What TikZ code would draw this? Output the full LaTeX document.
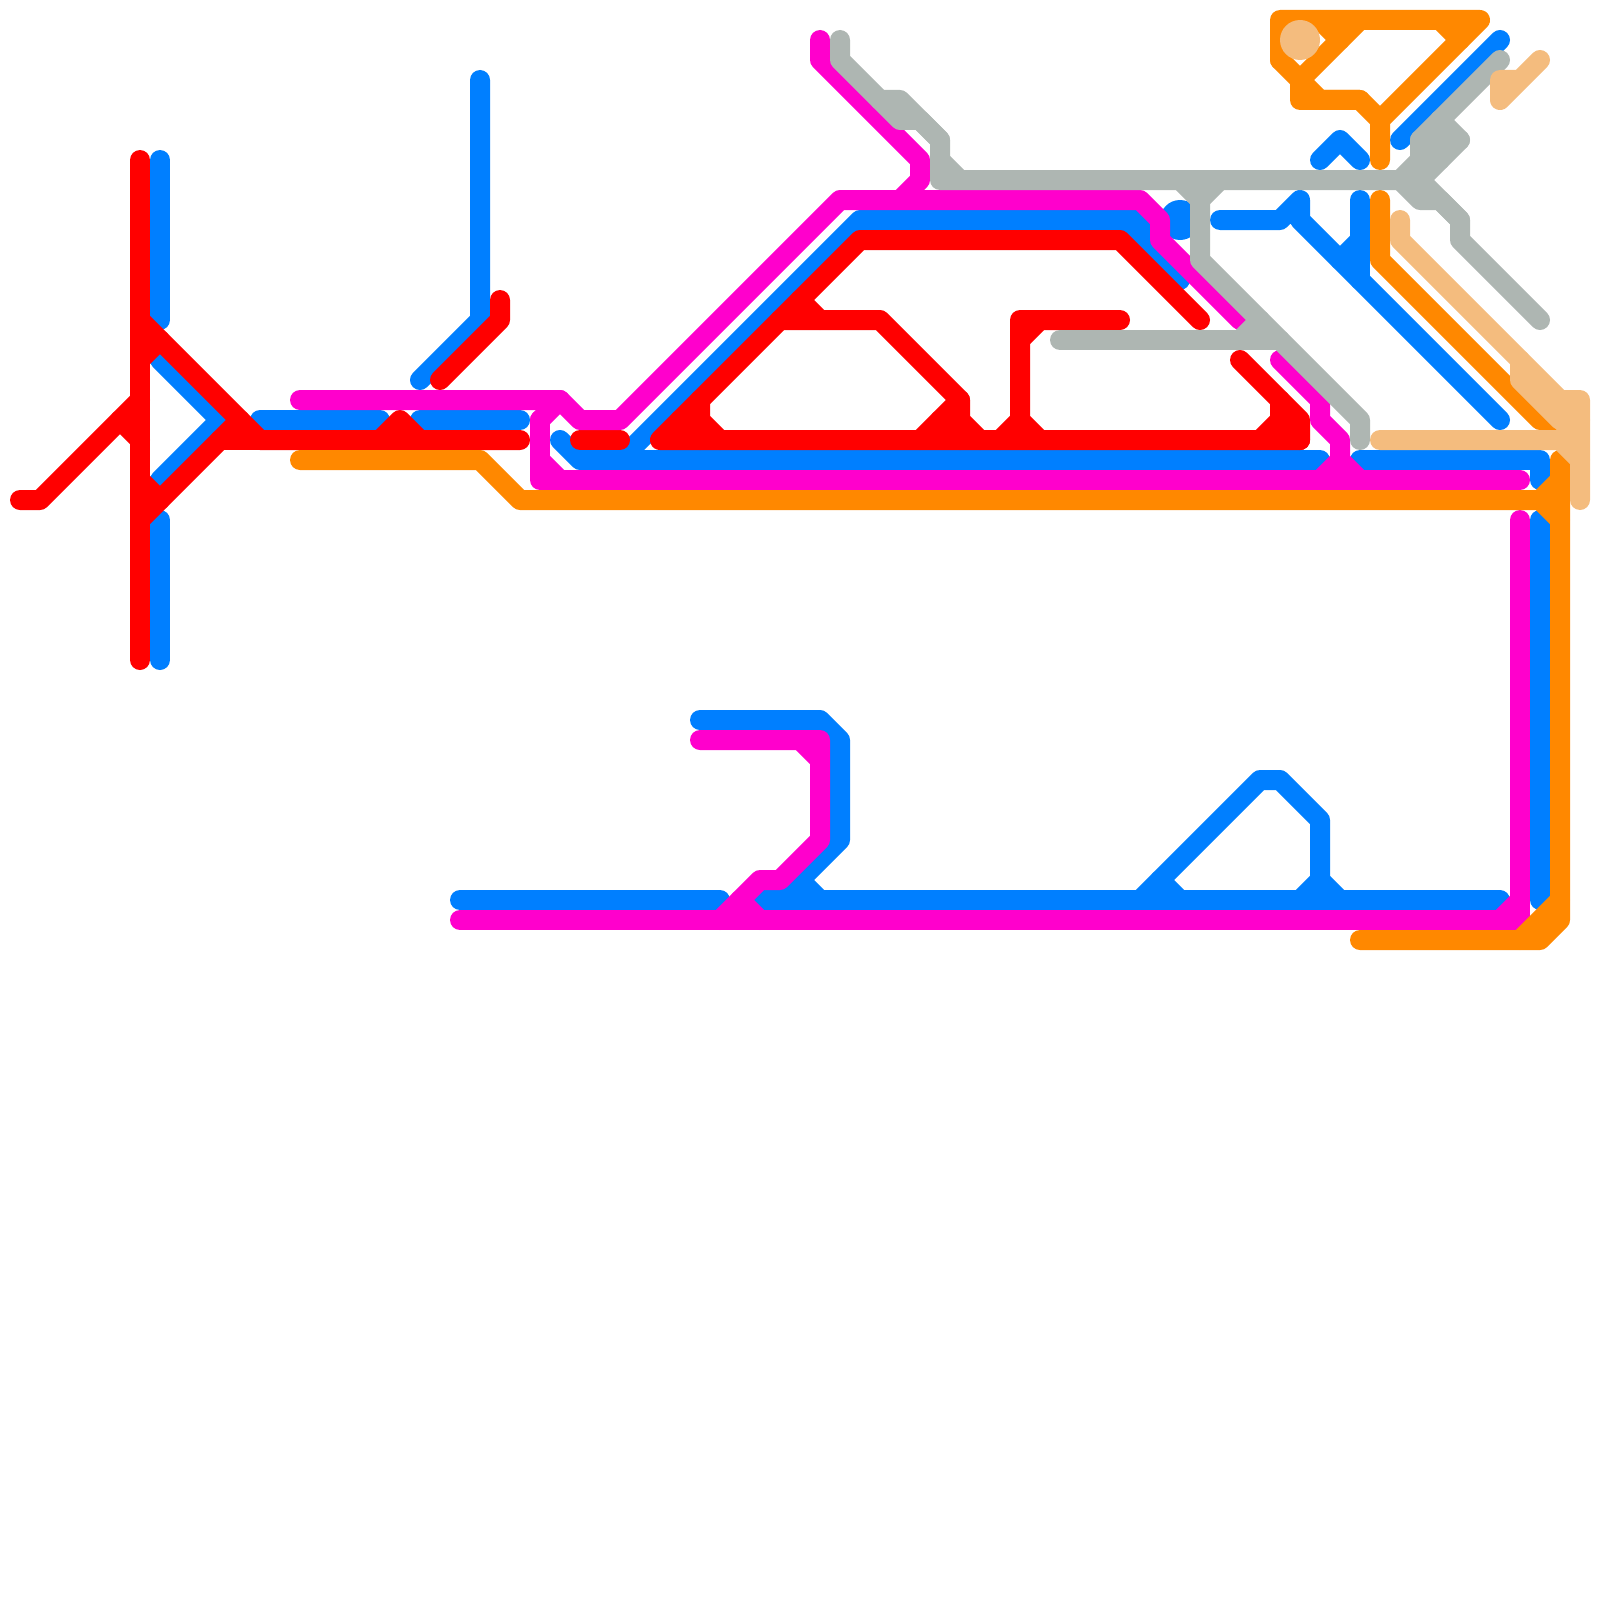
\documentclass[tikz,border=0pt]{standalone}
\definecolor{lblue}{HTML}{007FFF}
\definecolor{lred}{HTML}{FF0000}
\definecolor{lmag}{HTML}{FF00CC}
\definecolor{lorange}{HTML}{FF8800}
\definecolor{lgray}{HTML}{AEB6B2}
\definecolor{ltan}{HTML}{F4BC7E}
\tikzset{
  route/.style={line width=20pt,line cap=round,line join=round},
  blueroute/.style={route,draw=lblue},
  redroute/.style={route,draw=lred},
  magroute/.style={route,draw=lmag},
  orangeroute/.style={route,draw=lorange},
  grayroute/.style={route,draw=lgray},
  tanroute/.style={route,draw=ltan}
}
\begin{document}
\begin{tikzpicture}[x=1pt,y=-1pt]
\useasboundingbox (0,0) rectangle (1600,1600);
% blue
\fill[lblue] (1180,220) circle (20);
\draw[blueroute] (160,160) -- (160,320);
\draw[blueroute] (160,360) -- (220,420) -- (160,480);
\draw[blueroute] (160,520) -- (160,660);
\draw[blueroute] (260,420) -- (380,420);
\draw[blueroute] (420,420) -- (520,420);
\draw[blueroute] (480,80) -- (480,320) -- (420,380);
\draw[blueroute] (560,440) -- (580,460) -- (1320,460);
\draw[blueroute] (620,460) -- (860,220) -- (1120,220) -- (1180,280);
\draw[blueroute] (1120,220) -- (1140,220) -- (1160,240);
\draw[blueroute] (1360,460) -- (1540,460) -- (1540,480);
\draw[blueroute] (1540,520) -- (1540,900);
\draw[blueroute] (460,900) -- (720,900);
\draw[blueroute] (760,900) -- (1500,900);
\draw[blueroute] (700,720) -- (820,720) -- (840,740) -- (840,840) -- (780,900);
\draw[blueroute] (800,880) -- (820,900);
\draw[blueroute] (1140,900) -- (1260,780) -- (1280,780) -- (1320,820) -- (1320,880) -- (1300,900);
\draw[blueroute] (1320,880) -- (1340,900);
\draw[blueroute] (1160,880) -- (1180,900);
\draw[blueroute] (1400,140) -- (1500,40);
\draw[blueroute] (1320,160) -- (1340,140) -- (1360,160);
\draw[blueroute] (1220,220) -- (1280,220) -- (1300,200) -- (1300,220) -- (1500,420);
\draw[blueroute] (1360,200) -- (1360,280);
\draw[blueroute] (1360,240) -- (1340,260);
% red
\draw[redroute] (140,160) -- (140,660);
\draw[redroute] (20,500) -- (40,500) -- (140,400);
\draw[redroute] (120,420) -- (140,440);
\draw[redroute] (140,320) -- (260,440) -- (520,440);
\draw[redroute] (220,440) -- (260,440);
\draw[redroute] (140,520) -- (240,420);
\draw[redroute] (140,480) -- (160,500);
\draw[redroute] (140,360) -- (160,340);
\draw[redroute] (380,440) -- (400,420) -- (420,440);
\draw[redroute] (440,380) -- (500,320) -- (500,300);
\draw[redroute] (580,440) -- (620,440);
\draw[redroute] (1300,440) -- (660,440) -- (860,240) -- (1120,240) -- (1200,320);
\draw[redroute] (1300,440) -- (1300,420) -- (1240,360);
\draw[redroute] (1280,400) -- (1280,420) -- (1260,440);
\draw[redroute] (1280,420) -- (1300,440);
\draw[redroute] (700,400) -- (700,420) -- (720,440);
\draw[redroute] (680,420) -- (700,440);
\draw[redroute] (780,320) -- (880,320) -- (960,400) -- (960,420) -- (980,440);
\draw[redroute] (800,300) -- (820,320);
\draw[redroute] (920,440) -- (960,400);
\draw[redroute] (940,420) -- (960,440);
\draw[redroute] (1120,320) -- (1020,320) -- (1020,420) -- (1040,440);
\draw[redroute] (1020,340) -- (1040,320);
\draw[redroute] (1000,440) -- (1020,420);
% magenta
\draw[magroute] (300,400) -- (560,400) -- (580,420) -- (620,420) -- (840,200) -- (1140,200) -- (1160,220) -- (1160,240) -- (1240,320);
\draw[magroute] (820,40) -- (820,60) -- (920,160) -- (920,180) -- (900,200);
\draw[magroute] (540,420) -- (560,400);
\draw[magroute] (540,420) -- (540,480) -- (1520,480);
\draw[magroute] (540,460) -- (560,480);
\draw[magroute] (1280,360) -- (1320,400) -- (1320,420) -- (1340,440) -- (1340,460) -- (1320,480);
\draw[magroute] (1340,460) -- (1360,480);
\draw[magroute] (460,920) -- (1520,920) -- (1520,520);
\draw[magroute] (1500,920) -- (1520,900);
\draw[magroute] (720,920) -- (760,880) -- (780,880) -- (820,840) -- (820,740) -- (700,740);
\draw[magroute] (800,740) -- (820,760);
\draw[magroute] (740,900) -- (760,920);
% orange
\draw[orangeroute] (300,460) -- (480,460) -- (520,500) -- (1540,500);
\draw[orangeroute] (1540,500) -- (1560,480);
\draw[orangeroute] (1540,500) -- (1560,520);
\draw[orangeroute] (1360,940) -- (1540,940) -- (1560,920) -- (1560,460);
\draw[orangeroute] (1520,940) -- (1560,900);
\draw[orangeroute] (1360,20) -- (1300,80) -- (1320,100) -- (1360,100) -- (1380,120);
\draw[orangeroute] (1280,60) -- (1280,20) -- (1480,20) -- (1380,120) -- (1380,160);
\draw[orangeroute] (1280,60) -- (1300,80) -- (1300,100) -- (1360,100);
\draw[orangeroute] (1320,20) -- (1340,40);
\draw[orangeroute] (1440,20) -- (1460,40);
\draw[orangeroute] (1380,200) -- (1380,260) -- (1540,420) -- (1560,420);
% gray
\draw[grayroute] (840,40) -- (840,60) -- (900,120) -- (920,120) -- (940,140) -- (940,180) -- (1400,180);
\draw[grayroute] (880,100) -- (900,100) -- (940,140);
\draw[grayroute] (940,160) -- (960,180);
\draw[grayroute] (1180,180) -- (1200,200) -- (1220,180);
\draw[grayroute] (1200,200) -- (1200,260) -- (1360,420) -- (1360,440);
\draw[grayroute] (1060,340) -- (1280,340);
\draw[grayroute] (1240,340) -- (1260,320);
\draw[grayroute] (1400,180) -- (1420,160) -- (1420,140) -- (1500,60);
\draw[grayroute] (1440,120) -- (1460,140) -- (1420,180) -- (1460,220) -- (1460,240) -- (1540,320);
\draw[grayroute] (1400,180) -- (1420,200) -- (1440,200) -- (1460,220);
\draw[grayroute] (1440,120) -- (1440,160);
\draw[grayroute] (1420,140) -- (1460,140);
% tan
\fill[ltan] (1300,40) circle (20);
\draw[tanroute] (1540,60) -- (1520,80) -- (1500,80) -- (1500,100) -- (1540,60);
\draw[tanroute] (1400,220) -- (1400,240) -- (1560,400) -- (1580,400) -- (1580,500);
\draw[tanroute] (1520,360) -- (1520,380) -- (1560,420) -- (1580,420);
\draw[tanroute] (1380,440) -- (1560,440) -- (1580,420);
\draw[tanroute] (1560,440) -- (1580,460);
\end{tikzpicture}
\end{document}
